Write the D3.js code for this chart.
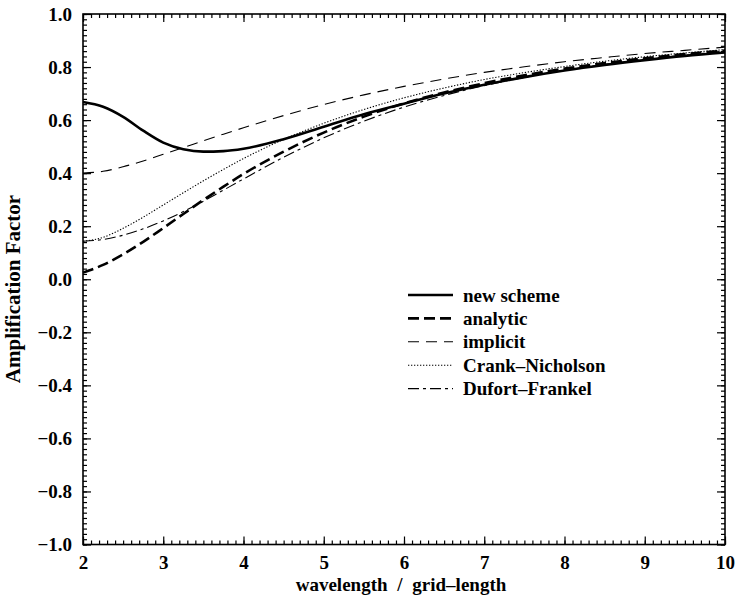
<!DOCTYPE html>
<html>
<head>
<meta charset="utf-8">
<script src="https://cdn.jsdelivr.net/npm/d3@7"></script>
<style>
  body { margin: 0; background: #fff; }
  text { font-family: "Liberation Serif", "DejaVu Serif", serif; font-weight: bold; fill: #000; }
</style>
</head>
<body>
<script>
var width = 736,
    height = 601,
    margin = {top: 14, right: 11, bottom: 56, left: 83};

// wavelength / grid-length
var lambda = [2, 2.25, 2.5, 2.75, 3, 3.25, 3.5, 3.75, 4, 4.5, 5, 5.5, 6, 6.5, 7, 7.5, 8, 8.5, 9, 9.5, 10];

var newScheme = [0.668, 0.650, 0.612, 0.560, 0.515, 0.490, 0.481, 0.483, 0.492, 0.528, 0.575, 0.622, 0.662, 0.700, 0.733, 0.762, 0.787, 0.808, 0.826, 0.842, 0.855];
var analytic = [0.025, 0.054, 0.094, 0.141, 0.193, 0.246, 0.299, 0.349, 0.397, 0.481, 0.553, 0.613, 0.663, 0.704, 0.739, 0.769, 0.794, 0.815, 0.833, 0.849, 0.862];
var implicit = [0.400, 0.407, 0.424, 0.446, 0.471, 0.496, 0.522, 0.547, 0.571, 0.617, 0.659, 0.695, 0.727, 0.755, 0.780, 0.801, 0.820, 0.836, 0.851, 0.863, 0.875];
var crankNicholson = [0.143, 0.158, 0.192, 0.234, 0.280, 0.326, 0.371, 0.414, 0.455, 0.527, 0.588, 0.640, 0.684, 0.721, 0.753, 0.779, 0.802, 0.822, 0.839, 0.853, 0.866];
var dufortFrankel = [0.143, 0.150, 0.166, 0.190, 0.220, 0.255, 0.294, 0.336, 0.378, 0.460, 0.533, 0.596, 0.649, 0.693, 0.730, 0.761, 0.788, 0.810, 0.829, 0.845, 0.860];

var seriesNames = ["new scheme", "analytic", "implicit", "Crank\u2013Nicholson", "Dufort\u2013Frankel"];
var xTicks = [2, 3, 4, 5, 6, 7, 8, 9, 10];
var yTicks = [-1.0, -0.8, -0.6, -0.4, -0.2, 0.0, 0.2, 0.4, 0.6, 0.8, 1.0];

var styles = [
    {w: 2.6, dash: null},
    {w: 2.6, dash: "11,5"},
    {w: 1.1, dash: "11,7"},
    {w: 1.1, dash: "1.3,1.7"},
    {w: 1.1, dash: "11,4,3,4"}
];

var series = [newScheme, analytic, implicit, crankNicholson, dufortFrankel].map(function (vals, i) {
    return {name: seriesNames[i], style: styles[i], values: vals.map(function (v, j) { return {x: lambda[j], y: v}; })};
});

var x = d3.scaleLinear().domain([2, 10]).range([margin.left, width - margin.right]);
var y = d3.scaleLinear().domain([-1, 1]).range([height - margin.bottom - 0.5, margin.top]);

var svg = d3.select("body").append("svg")
    .attr("width", width)
    .attr("height", height);

var xMinor = d3.range(20, 101).map(function (d) { return d / 10; });
var yMinor = d3.range(-50, 51).map(function (d) { return d / 50; });

function minorTicks(axis, vals) {
    return axis.tickValues(vals).tickSize(-4).tickSizeOuter(0).tickFormat("");
}

var x0 = height - margin.bottom - 0.5, y0 = margin.top, xl = margin.left, xr = width - margin.right;

// minor ticks on all four sides
svg.append("g").attr("transform", "translate(0," + x0 + ")").call(minorTicks(d3.axisBottom(x), xMinor));
svg.append("g").attr("transform", "translate(0," + y0 + ")").call(minorTicks(d3.axisTop(x), xMinor));
svg.append("g").attr("transform", "translate(" + xl + ",0)").call(minorTicks(d3.axisLeft(y), yMinor));
svg.append("g").attr("transform", "translate(" + xr + ",0)").call(minorTicks(d3.axisRight(y), yMinor));

// major ticks
svg.append("g").attr("class", "xaxis").attr("transform", "translate(0," + x0 + ")")
    .call(d3.axisBottom(x).tickValues(xTicks).tickSize(-8).tickSizeOuter(0).tickPadding(11).tickFormat(d3.format("d")));
svg.append("g").attr("transform", "translate(0," + y0 + ")")
    .call(d3.axisTop(x).tickValues(xTicks).tickSize(-8).tickSizeOuter(0).tickFormat(""));
svg.append("g").attr("class", "yaxis").attr("transform", "translate(" + xl + ",0)")
    .call(d3.axisLeft(y).tickValues(yTicks).tickSize(-8).tickSizeOuter(0).tickPadding(11).tickFormat(d3.format(".1f")));
svg.append("g").attr("transform", "translate(" + xr + ",0)")
    .call(d3.axisRight(y).tickValues(yTicks).tickSize(-8).tickSizeOuter(0).tickFormat(""));

svg.selectAll(".domain").remove();
svg.selectAll(".tick line").attr("stroke", "#000").attr("stroke-width", 1.2);
svg.selectAll(".xaxis text, .yaxis text")
    .style("font-family", "Liberation Serif, serif")
    .style("font-weight", "bold")
    .style("font-size", "19px")
    .attr("fill", "#000");

// frame
svg.append("rect")
    .attr("x", xl).attr("y", y0)
    .attr("width", xr - xl).attr("height", x0 - y0)
    .attr("fill", "none").attr("stroke", "#000").attr("stroke-width", 1.6);

var line = d3.line()
    .x(function (d) { return x(d.x); })
    .y(function (d) { return y(d.y); })
    .curve(d3.curveMonotoneX);

svg.selectAll(".series")
    .data(series)
    .enter().append("path")
    .attr("class", "series")
    .attr("d", function (d) { return line(d.values); })
    .attr("fill", "none")
    .attr("stroke", "#000")
    .attr("stroke-width", function (d) { return d.style.w; })
    .attr("stroke-dasharray", function (d) { return d.style.dash; });

// legend
var legend = svg.append("g").attr("transform", "translate(408,295)");
var row = legend.selectAll(".row")
    .data(series)
    .enter().append("g")
    .attr("transform", function (d, i) { return "translate(0," + (i * 23.4) + ")"; });
row.append("line")
    .attr("x1", 0).attr("x2", 45)
    .attr("stroke", "#000")
    .attr("stroke-width", function (d) { return d.style.w; })
    .attr("stroke-dasharray", function (d) { return d.style.dash; });
row.append("text")
    .attr("x", 55).attr("dy", "0.35em")
    .style("font-size", "19px")
    .text(function (d) { return d.name; });

// axis titles
svg.append("text")
    .attr("x", (xl + xr) / 2 - 3)
    .attr("y", 591)
    .attr("text-anchor", "middle")
    .style("font-size", "19px")
    .style("word-spacing", "5px")
    .text("wavelength / grid\u2013length");

svg.append("text")
    .attr("transform", "translate(20,289)rotate(-90)")
    .attr("text-anchor", "middle")
    .style("font-size", "21px")
    .text("Amplification Factor");
</script>
</body>
</html>
